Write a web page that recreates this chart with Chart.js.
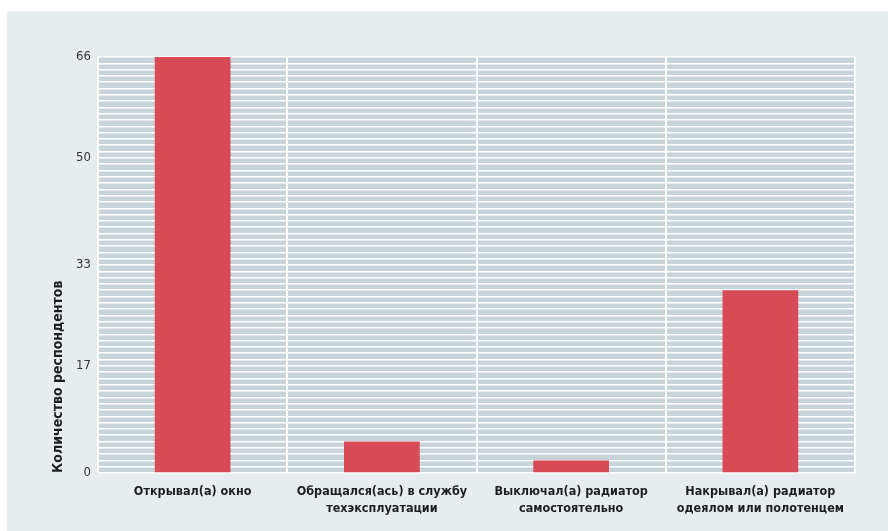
<!DOCTYPE html>
<html>
<head>
<meta charset="utf-8">
<script src="https://cdn.jsdelivr.net/npm/chart.js@4/dist/chart.umd.min.js"></script>
<style>
  html, body { margin: 0; padding: 0; background: #ffffff; }
  #chart { display: block; }
</style>
</head>
<body>
<canvas id="chart" width="888" height="531"></canvas>
<script>
// ответы респондентов
var categories = [
    ['Открывал(а) окно'],
    ['Обращался(ась) в службу', 'техэксплуатации'],
    ['Выключал(а) радиатор', 'самостоятельно'],
    ['Накрывал(а) радиатор', 'одеялом или полотенцем']
];
var counts = [66, 5, 2, 29];
var yLabels = [0, 17, 33, 50, 66];
var yMax = 66;

var FONT = "'Liberation Sans Narrow', 'DejaVu Sans Condensed', sans-serif";

// фон страницы, плашка и серая подложка области графика
var backdrop = {
    id: 'backdrop',
    beforeDraw: function(chart) {
        var c = chart.ctx, a = chart.chartArea;
        c.save();
        c.fillStyle = '#ffffff';
        c.fillRect(0, 0, chart.width, chart.height);
        c.fillStyle = '#e7ecef';
        c.fillRect(7, 11, chart.width - 7, chart.height - 11);
        c.fillStyle = '#c8d3da';
        c.fillRect(a.left, a.top, a.right - a.left, a.bottom - a.top);
        c.restore();
    }
};

var ctx = document.getElementById('chart').getContext('2d');
var myChart = new Chart(ctx, {
    type: 'bar',
    data: {
        labels: categories,
        datasets: [{
            label: 'Количество респондентов',
            data: counts,
            backgroundColor: '#d94a57',
            borderWidth: 0,
            barPercentage: 0.4,
            categoryPercentage: 1
        }]
    },
    options: {
        responsive: false,
        animation: false,
        layout: {
            padding: { top: 57, right: 33, bottom: 4, left: 0 }
        },
        plugins: {
            legend: { display: false },
            tooltip: { enabled: false }
        },
        scales: {
            x: {
                grid: {
                    color: '#ffffff',
                    lineWidth: 2,
                    drawTicks: false,
                    offset: true
                },
                border: { display: false },
                ticks: {
                    color: '#1e1e1e',
                    padding: 10,
                    maxRotation: 0,
                    autoSkip: false,
                    font: { family: FONT, size: 12.5, weight: 'bold', lineHeight: 1.36 }
                }
            },
            y: {
                min: 0,
                max: yMax,
                afterFit: function(scale) { scale.width = 98; },
                afterBuildTicks: function(scale) {
                    var t = [];
                    for (var v = 0; v <= yMax; v++) t.push({ value: v });
                    scale.ticks = t;
                },
                grid: {
                    color: '#ffffff',
                    lineWidth: 1.5,
                    drawTicks: false
                },
                border: { display: false },
                ticks: {
                    autoSkip: false,
                    padding: 7,
                    color: '#333333',
                    font: { family: FONT, size: 13 },
                    callback: function(v) {
                        return yLabels.indexOf(v) >= 0 ? String(v) : '';
                    }
                },
                title: {
                    display: true,
                    text: 'Количество респондентов',
                    align: 'start',
                    color: '#1e1e1e',
                    padding: { top: 50, bottom: 0 },
                    font: { family: FONT, size: 14, weight: 'bold' }
                }
            }
        }
    },
    plugins: [backdrop]
});
</script>
</body>
</html>
